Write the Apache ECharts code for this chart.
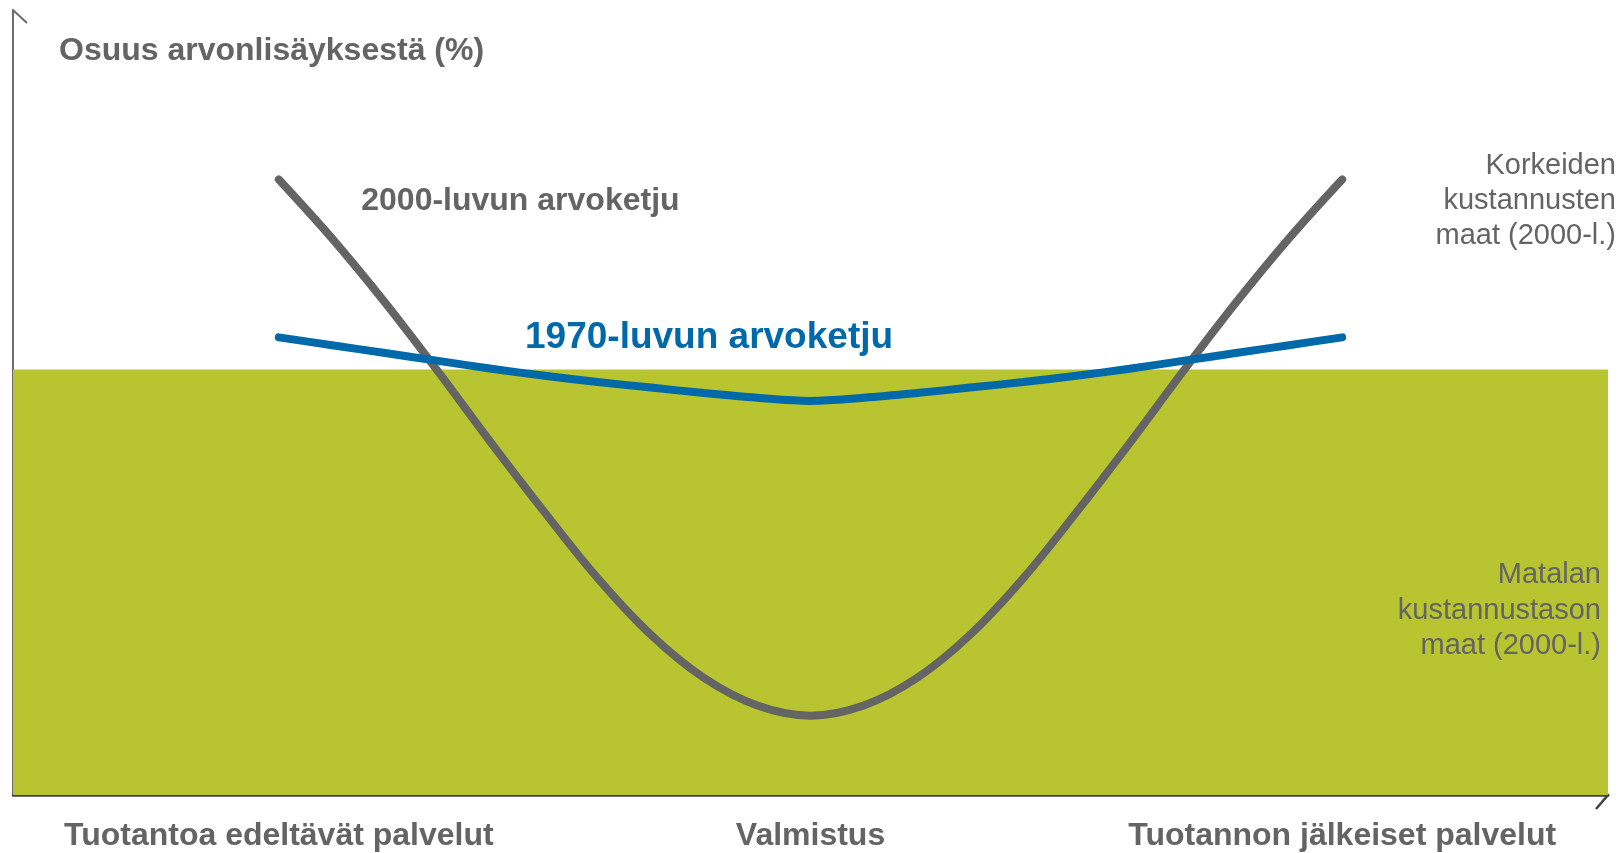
<!DOCTYPE html>
<html>
<head>
<meta charset="utf-8">
<script src="https://cdn.jsdelivr.net/npm/echarts@6/dist/echarts.min.js"></script>
<style>
  html, body { margin: 0; padding: 0; background: #ffffff; }
  #chart { width: 1623px; height: 853px; }
</style>
</head>
<body>
<div id="chart"></div>
<script>
// ---- data ----
const categories = ['Tuotantoa edeltävät palvelut', 'Valmistus', 'Tuotannon jälkeiset palvelut'];
const categoryPositions = [0.5, 1.5, 2.5];
const xPositions = [0.5, 0.6, 0.7, 0.8, 0.9, 1.0, 1.1, 1.2, 1.3, 1.4, 1.5,
                    1.6, 1.7, 1.8, 1.9, 2.0, 2.1, 2.2, 2.3, 2.4, 2.5];
const values2000 = [78.4, 70.9, 62.7, 53.9, 44.8, 36.0, 27.6, 20.4, 14.9, 11.4, 10.1,
                    11.4, 14.9, 20.4, 27.6, 36.0, 44.8, 53.9, 62.7, 70.9, 78.4];
const values1970 = [58.3, 57.3, 56.3, 55.3, 54.3, 53.4, 52.6, 51.9, 51.2, 50.6, 50.2,
                    50.6, 51.2, 51.9, 52.6, 53.4, 54.3, 55.3, 56.3, 57.3, 58.3];
const lowCostLevel = 54.2;
const yAxisTitle = 'Osuus arvonlisäyksestä (%)';
const label2000 = '2000-luvun arvoketju';
const label1970 = '1970-luvun arvoketju';
const labelHigh = 'Korkeiden\nkustannusten\nmaat (2000-l.)';
const labelLow = 'Matalan\nkustannustason\nmaat (2000-l.)';

const FONT = '"Liberation Sans", Arial, Helvetica, sans-serif';
const GRAY = '#646464';
const BLUE = '#0069aa';
const GREEN = '#b8c430';

const zip = (xs, ys) => xs.map((x, i) => [x, ys[i]]);

const chart = echarts.init(document.getElementById('chart'), null, { renderer: 'canvas' });
chart.setOption({
  animation: false,
  backgroundColor: '#ffffff',
  grid: { left: 13, right: 15, top: 10, bottom: 58, containLabel: false },
  title: {
    text: yAxisTitle,
    left: 59, top: 35, padding: 0,
    textStyle: { fontFamily: FONT, fontSize: 32, fontWeight: 'bold', color: GRAY }
  },
  xAxis: {
    type: 'value', min: 0, max: 3, interval: 0.5,
    axisLine: { show: true, lineStyle: { color: '#404040', width: 2.5 } },
    axisTick: { show: false },
    splitLine: { show: false },
    axisLabel: {
      margin: 25,
      fontFamily: FONT, fontSize: 32, fontWeight: 'bold', color: GRAY,
      formatter: function (v) {
        const i = categoryPositions.findIndex(p => Math.abs(p - v) < 1e-6);
        return i >= 0 ? categories[i] : '';
      }
    }
  },
  yAxis: {
    type: 'value', min: 0, max: 100,
    axisLine: { show: true, lineStyle: { color: '#6b6b6b', width: 2 } },
    axisTick: { show: false },
    axisLabel: { show: false },
    splitLine: { show: false }
  },
  series: [
    {
      type: 'line', name: 'low', z: 1,
      data: [[0, lowCostLevel], [3, lowCostLevel]],
      symbol: 'none',
      lineStyle: { width: 0 },
      areaStyle: { color: GREEN, opacity: 1 }
    },
    {
      type: 'line', name: '2000', z: 3,
      data: zip(xPositions, values2000),
      smooth: 0.35, symbol: 'none',
      lineStyle: { width: 8, color: GRAY, cap: 'round' },
      markPoint: {
        symbol: 'rect', symbolSize: 0, silent: true,
        data: [{ coord: [0.655, 75.7], value: label2000 }],
        label: {
          show: true, position: 'inside', align: 'left', verticalAlign: 'middle',
          formatter: label2000,
          fontFamily: FONT, fontSize: 32, fontWeight: 'bold', color: GRAY
        }
      }
    },
    {
      type: 'line', name: '1970', z: 4,
      data: zip(xPositions, values1970),
      smooth: 0.35, symbol: 'none',
      lineStyle: { width: 8, color: BLUE, cap: 'round' },
      markPoint: {
        symbol: 'rect', symbolSize: 0, silent: true,
        data: [{ coord: [0.963, 58.3], value: label1970 }],
        label: {
          show: true, position: 'inside', align: 'left', verticalAlign: 'middle',
          formatter: label1970,
          fontFamily: FONT, fontSize: 37, fontWeight: 'bold', color: BLUE
        }
      }
    }
  ],
  graphic: [
    { type: 'line', shape: { x1: 13, y1: 10, x2: 27, y2: 23 }, style: { stroke: '#6b6b6b', lineWidth: 2 } },
    { type: 'polyline', shape: { points: [[1596, 782], [1608, 795], [1596, 809]] }, style: { stroke: '#404040', lineWidth: 2.5, fill: null } },
    {
      type: 'text', x: 1616, y: 201,
      style: { text: labelHigh, textAlign: 'right', textVerticalAlign: 'middle', fontFamily: FONT, fontSize: 29, lineHeight: 35.2, fill: GRAY }
    },
    {
      type: 'text', x: 1601, y: 610.5, z: 10,
      style: { text: labelLow, textAlign: 'right', textVerticalAlign: 'middle', fontFamily: FONT, fontSize: 29, lineHeight: 35.2, fill: GRAY }
    }
  ]
});
</script>
</body>
</html>
